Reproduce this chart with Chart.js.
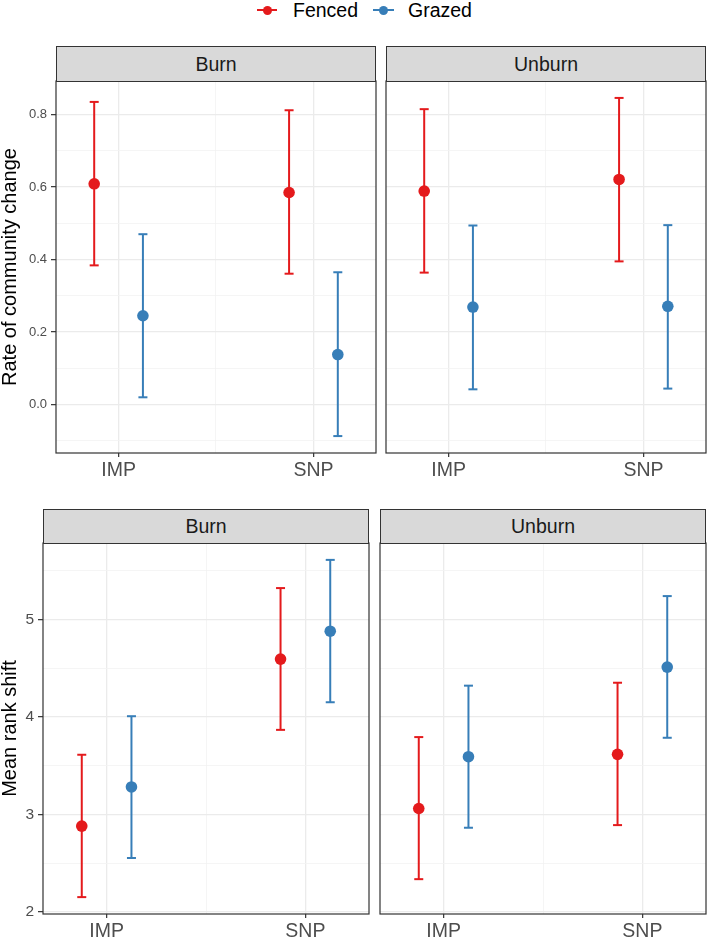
<!DOCTYPE html>
<html>
<head>
<meta charset="utf-8">
<script src="https://cdn.jsdelivr.net/npm/chart.js@4.4.1/dist/chart.umd.min.js"></script>
<style>
  body { margin: 0; width: 709px; height: 941px; position: relative; overflow: hidden; background: #fff;
         font-family: 'Liberation Sans', Arial, sans-serif; }
  canvas, .strip, .key { position: absolute; }
  .strip { box-sizing: border-box; background: #D9D9D9; border: 1.2px solid #333; color: #1A1A1A;
           font-size: 19.5px; display: flex; align-items: center; justify-content: center; }
  .key { height: 20px; display: flex; align-items: center; font-size: 19.5px; color: #000; }
  .glyph { position: relative; height: 20px; }
  .glyph .ln { position: absolute; left: 0; right: 0; top: 9px; height: 2px; }
  .glyph .pt { position: absolute; left: 50%; top: 10px; width: 9px; height: 9px; margin: -4.5px 0 0 -4.5px; border-radius: 50%; }
</style>
</head>
<body>
<canvas id="tl" width="378" height="407" style="left:0px;top:80px"></canvas>
<canvas id="tr" width="323" height="407" style="left:385px;top:80px"></canvas>
<canvas id="bl" width="371" height="399" style="left:0px;top:542px"></canvas>
<canvas id="br" width="329" height="399" style="left:379px;top:542px"></canvas>
<script>
const categories = ['IMP', 'SNP'];
const groups = ['Fenced', 'Grazed'];
const colors = ['#E41A1C', '#377EB8'];

const rateTicks = [0, 0.2, 0.4, 0.6, 0.8];
const rankTicks = [2, 3, 4, 5];

// Rate of community change (mean, lower, upper), per category
const rateBurnFenced = [0.609, 0.585];
const rateBurnFencedLo = [0.384, 0.361];
const rateBurnFencedHi = [0.835, 0.812];
const rateBurnGrazed = [0.245, 0.138];
const rateBurnGrazedLo = [0.020, -0.087];
const rateBurnGrazedHi = [0.470, 0.365];
const rateUnburnFenced = [0.589, 0.621];
const rateUnburnFencedLo = [0.364, 0.395];
const rateUnburnFencedHi = [0.815, 0.846];
const rateUnburnGrazed = [0.269, 0.271];
const rateUnburnGrazedLo = [0.042, 0.044];
const rateUnburnGrazedHi = [0.494, 0.495];

// Mean rank shift
const rankBurnFenced = [2.881, 4.592];
const rankBurnFencedLo = [2.153, 3.867];
const rankBurnFencedHi = [3.612, 5.320];
const rankBurnGrazed = [3.282, 4.878];
const rankBurnGrazedLo = [2.554, 4.150];
const rankBurnGrazedHi = [4.007, 5.609];
const rankUnburnFenced = [3.061, 3.616];
const rankUnburnFencedLo = [2.337, 2.891];
const rankUnburnFencedHi = [3.793, 4.350];
const rankUnburnGrazed = [3.592, 4.510];
const rankUnburnGrazedLo = [2.864, 3.786];
const rankUnburnGrazedHi = [4.320, 5.238];

const FONT = "'Liberation Sans', Arial, sans-serif";
const dodge = 0.125;

const panels = [
  { id: 'tl', strip: 'Burn', left: 56, top: 46, w: 320, stripH: 35,
    mean: [rateBurnFenced, rateBurnGrazed], lo: [rateBurnFencedLo, rateBurnGrazedLo], hi: [rateBurnFencedHi, rateBurnGrazedHi],
    ticks: rateTicks, digits: 1, ymin: -0.1337, ymax: 0.8927, xmin: 0.679, xmax: 2.321,
    padL: 0, axW: 56, axH: 34, tickSize: 13, title: 'Rate of community change' },
  { id: 'tr', strip: 'Unburn', left: 386, top: 46, w: 320, stripH: 35,
    mean: [rateUnburnFenced, rateUnburnGrazed], lo: [rateUnburnFencedLo, rateUnburnGrazedLo], hi: [rateUnburnFencedHi, rateUnburnGrazedHi],
    ticks: rateTicks, digits: 1, ymin: -0.1337, ymax: 0.8927, xmin: 0.679, xmax: 2.321,
    padL: 1, axW: 0, axH: 34, tickSize: 13, title: null },
  { id: 'bl', strip: 'Burn', left: 43, top: 509, w: 326, stripH: 34,
    mean: [rankBurnFenced, rankBurnGrazed], lo: [rankBurnFencedLo, rankBurnGrazedLo], hi: [rankBurnFencedHi, rankBurnGrazedHi],
    ticks: rankTicks, digits: 0, ymin: 1.98, ymax: 5.782, xmin: 0.68, xmax: 2.32,
    padL: 0, axW: 43, axH: 27, tickSize: 15.5, title: 'Mean rank shift' },
  { id: 'br', strip: 'Unburn', left: 380, top: 509, w: 326, stripH: 34,
    mean: [rankUnburnFenced, rankUnburnGrazed], lo: [rankUnburnFencedLo, rankUnburnGrazedLo], hi: [rankUnburnFencedHi, rankUnburnGrazedHi],
    ticks: rankTicks, digits: 0, ymin: 1.98, ymax: 5.782, xmin: 0.68, xmax: 2.32,
    padL: 1, axW: 0, axH: 27, tickSize: 15.5, title: null }
];

// panel border drawn over everything, like ggplot theme_bw
const frame = {
  id: 'frame',
  afterDraw(chart) {
    const a = chart.chartArea, c = chart.ctx;
    c.save();
    c.strokeStyle = '#333333';
    c.lineWidth = 1.2;
    c.strokeRect(a.left, a.top, a.right - a.left, a.bottom - a.top);
    c.restore();
  }
};

function zeroPad(s) {
  s.paddingLeft = 0; s.paddingRight = 0; s.paddingTop = 0; s.paddingBottom = 0;
}

function minorOf(major) {
  const step = major[1] - major[0];
  const out = [];
  for (let i = -1; i < major.length; i++) out.push(+(major[0] + (i + 0.5) * step).toFixed(6));
  return out;
}

function makePanel(p) {
  const strip = document.createElement('div');
  strip.className = 'strip';
  strip.textContent = p.strip;
  strip.style.left = p.left + 'px';
  strip.style.top = p.top + 'px';
  strip.style.width = p.w + 'px';
  strip.style.height = (p.stripH + 1) + 'px';
  document.body.appendChild(strip);

  const datasets = [];
  groups.forEach((g, gi) => {
    const dx = gi === 0 ? -dodge : dodge;
    datasets.push({
      label: g,
      data: categories.map((c, ci) => ({ x: ci + 1 + dx, y: p.mean[gi][ci] })),
      backgroundColor: colors[gi], borderWidth: 0, pointRadius: 5.8, pointHoverRadius: 5.8, order: 0
    });
    categories.forEach((c, ci) => {
      datasets.push({
        label: g + ' ' + c,
        data: [{ x: ci + 1 + dx, y: p.lo[gi][ci] }, { x: ci + 1 + dx, y: p.hi[gi][ci] }],
        showLine: true, borderColor: colors[gi], borderWidth: 2,
        pointStyle: 'line', pointRadius: 4.5, pointHoverRadius: 4.5, pointBorderWidth: 2,
        pointBorderColor: colors[gi], order: 1
      });
    });
  });

  const xAll = [1, 1.5, 2];
  const yMajor = p.ticks;
  const yAll = yMajor.concat(minorOf(yMajor));
  const isY = v => yMajor.includes(v);

  new Chart(document.getElementById(p.id), {
    type: 'scatter',
    data: { datasets },
    plugins: [frame],
    options: {
      responsive: false,
      animation: false,
      events: [],
      layout: { autoPadding: false, padding: { left: p.padL, top: 1, right: 2, bottom: 0 } },
      plugins: { legend: { display: false }, tooltip: { enabled: false } },
      scales: {
        x: {
          type: 'linear', min: p.xmin, max: p.xmax,
          afterBuildTicks: s => { s.ticks = xAll.map(v => ({ value: v })); },
          afterFit: s => { s.height = p.axH; zeroPad(s); },
          border: { display: false },
          grid: {
            color: c => (c.tick && Number.isInteger(c.tick.value)) ? '#EBEBEB' : '#F3F3F3',
            lineWidth: c => (c.tick && Number.isInteger(c.tick.value)) ? 1.3 : 0.8,
            tickColor: c => (c.tick && Number.isInteger(c.tick.value)) ? '#333333' : 'rgba(0,0,0,0)',
            tickLength: 4, tickWidth: 1.2
          },
          ticks: {
            autoSkip: false, maxRotation: 0, padding: 2, color: '#4D4D4D',
            font: { size: 19.5, family: FONT },
            callback: v => Number.isInteger(v) ? categories[v - 1] : ''
          }
        },
        y: {
          type: 'linear', min: p.ymin, max: p.ymax,
          afterBuildTicks: s => {
            s.ticks = yAll.filter(v => v >= s.min && v <= s.max).sort((a, b) => a - b).map(v => ({ value: v }));
          },
          afterFit: s => { s.width = p.axW; zeroPad(s); },
          border: { display: false },
          title: {
            display: !!p.title, text: p.title || '', color: '#000', padding: 0,
            font: { size: 20, family: FONT, lineHeight: 1.05 }
          },
          grid: {
            color: c => (c.tick && isY(c.tick.value)) ? '#EBEBEB' : '#F3F3F3',
            lineWidth: c => (c.tick && isY(c.tick.value)) ? 1.3 : 0.8,
            tickColor: c => (c.tick && isY(c.tick.value)) ? '#333333' : 'rgba(0,0,0,0)',
            drawTicks: p.axW > 0, tickLength: 5, tickWidth: 1.2
          },
          ticks: {
            display: p.axW > 0, autoSkip: false, padding: 4, color: '#4D4D4D',
            font: { size: p.tickSize, family: FONT },
            callback: v => isY(v) ? v.toFixed(p.digits) : ''
          }
        }
      }
    }
  });
}

panels.forEach(makePanel);

// legend at the top
const keyPos = [{ glyph: 257, gw: 20, text: 293 }, { glyph: 373, gw: 21, text: 408 }];
groups.forEach((g, gi) => {
  const k = document.createElement('div');
  k.className = 'key';
  k.style.left = keyPos[gi].glyph + 'px';
  k.style.top = '0px';
  const glyph = document.createElement('div');
  glyph.className = 'glyph';
  glyph.style.width = keyPos[gi].gw + 'px';
  glyph.style.marginRight = (keyPos[gi].text - keyPos[gi].glyph - keyPos[gi].gw) + 'px';
  glyph.innerHTML = '<div class="ln" style="background:' + colors[gi] + '"></div><div class="pt" style="background:' + colors[gi] + '"></div>';
  const t = document.createElement('span');
  t.textContent = g;
  k.appendChild(glyph);
  k.appendChild(t);
  document.body.appendChild(k);
});
</script>
</body>
</html>
